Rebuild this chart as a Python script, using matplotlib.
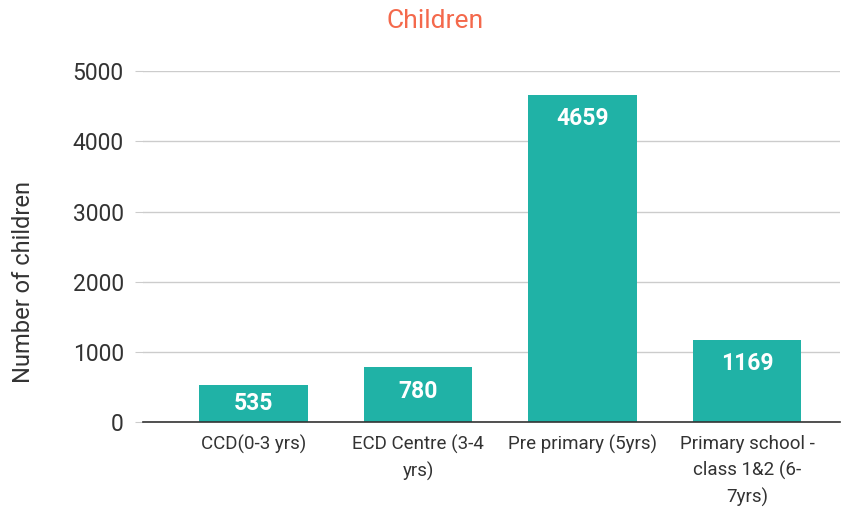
import matplotlib
matplotlib.use("Agg")
import matplotlib.pyplot as plt

# === DATA ===
categories = ["CCD(0-3 yrs)", "ECD Centre (3-4\nyrs)", "Pre primary (5yrs)",
              "Primary school -\nclass 1&2 (6-\n7yrs)"]
children = [535, 780, 4659, 1169]
yticks = [0, 1000, 2000, 3000, 4000, 5000]

BAR_COLOR = "#20b2a6"
TITLE_COLOR = "#f4694c"
TEXT_COLOR = "#333333"

plt.rcParams["font.family"] = ["Roboto", "DejaVu Sans"]

fig = plt.figure(figsize=(8.52, 5.08), dpi=100)
ax = fig.add_axes([0.168, 0.169, 0.818, 0.691])

x = range(len(categories))
bars = ax.bar(x, children, width=0.66, color=BAR_COLOR, zorder=3)

# value labels sit inside the top of each bar (centred when the bar is short)
for b, v in zip(bars, children):
    ax.text(b.get_x() + b.get_width() / 2, max(v - 340, v / 2), str(v),
            ha="center", va="center", color="white", fontsize=16.5,
            fontweight="bold", zorder=4)

ax.set_xlim(-0.672, 3.565)
ax.set_ylim(0, 5000)
ax.set_yticks(yticks)
ax.set_yticklabels([str(t) for t in yticks], fontsize=16.5, color=TEXT_COLOR)
ax.set_xticks(list(x))
ax.set_xticklabels(categories, fontsize=13.5, color=TEXT_COLOR, va="top", linespacing=1.55)

ax.grid(axis="y", color="#cccccc", linewidth=1, zorder=0)
for s in ["top", "right", "left"]:
    ax.spines[s].set_visible(False)
ax.spines["bottom"].set_color("#333333")
ax.spines["bottom"].set_linewidth(1.2)
ax.spines["bottom"].set_zorder(5)
ax.tick_params(axis="y", length=6, color="#cccccc", pad=8)
ax.tick_params(axis="x", length=0, pad=9)

fig.text(0.027, 0.445, "Number of children", rotation=90, ha="center", va="center",
         fontsize=17, color=TEXT_COLOR)
fig.text(0.511, 0.958, "Children", ha="center", va="center", fontsize=19, color=TITLE_COLOR)

fig.savefig("out.png", dpi=100)
